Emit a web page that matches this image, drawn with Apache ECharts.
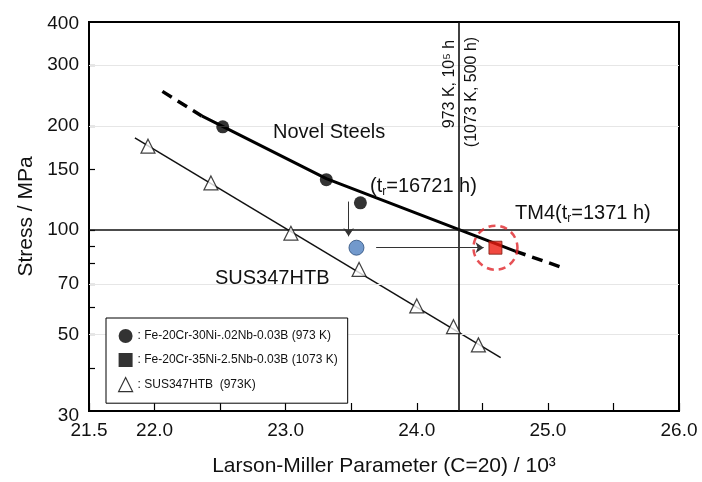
<!DOCTYPE html>
<html>
<head>
<meta charset="utf-8">
<script src="https://cdn.jsdelivr.net/npm/echarts@6/dist/echarts.min.js"></script>
<style>html,body{margin:0;padding:0;background:#fff}#c{width:702px;height:482px}</style>
</head>
<body>
<div id="c"></div>
<script>
// ---- data ----
const novelX = [22.52, 23.31, 23.57];
const novelY = [199, 140, 120];
const tm4X = [24.60];
const tm4Y = [89];
const blueX = [23.54];
const blueY = [89];
const susX = [21.95, 22.43, 23.04, 23.56, 24.00, 24.28, 24.47];
const susY = [175, 137, 98, 77, 60.4, 52.6, 46.6];
const susFitX = [21.85, 24.64];
const susFitY = [185, 42.8];
const novelFitX = [22.06, 22.36, 23.31, 24.75, 25.13];
const novelFitY = [252, 214, 141, 87, 77.5];
const yTicks = [40, 50, 60, 70, 80, 90, 100, 150, 200, 300];
const yLabels = [30, 50, 70, 100, 150, 200, 300, 400];
const xLabels = [21.5, 22, 23, 24, 25, 26];
const gridYs = [50, 70, 200, 300];
const refX = 24.32;
const refY = 100;
const downArrowX = [23.48, 23.48];
const downArrowY = [121, 96];
const sideArrowX = [23.69, 24.51];
const sideArrowY = [89, 89];
const names = ['Fe-20Cr-30Ni-.02Nb-0.03B (973 K)', 'Fe-20Cr-35Ni-2.5Nb-0.03B (1073 K)', 'SUS347HTB  (973K)'];

const zip = (a, b) => a.map((v, i) => [v, b[i]]);
const FONT = 'Liberation Sans, Arial, Helvetica, sans-serif';

const chart = echarts.init(document.getElementById('c'), null, {renderer: 'canvas'});
const option = {
  backgroundColor: '#fff',
  animation: false,
  textStyle: {fontFamily: FONT, color: '#111'},
  grid: {left: 89, right: 23, top: 22, bottom: 69, show: true, borderColor: '#000', borderWidth: 2, containLabel: false},
  xAxis: {
    type: 'value', min: 21.5, max: 26, interval: 0.5,
    name: 'Larson-Miller Parameter (C=20) / 10³', nameLocation: 'middle', nameGap: 45,
    nameTextStyle: {fontSize: 21, color: '#111', fontFamily: FONT},
    axisLine: {show: true, lineStyle: {color: '#000', width: 2}},
    axisTick: {inside: true, length: 8, lineStyle: {color: '#000', width: 1.2}},
    axisLabel: {customValues: xLabels, fontSize: 19, color: '#111', margin: 10, fontFamily: FONT,
      formatter: v => Number(v).toFixed(1)},
    splitLine: {show: false}
  },
  yAxis: {
    type: 'log', logBase: 10, min: 30, max: 400,
    name: 'Stress / MPa', nameLocation: 'middle', nameGap: 50,
    nameTextStyle: {fontSize: 21, color: '#111', fontFamily: FONT},
    axisLine: {show: true, lineStyle: {color: '#000', width: 2}},
    axisTick: {inside: true, length: 6, customValues: yTicks, lineStyle: {color: '#000', width: 1.2}},
    axisLabel: {customValues: yLabels, fontSize: 19, color: '#111', margin: 10, fontFamily: FONT,
      formatter: v => Math.round(v) === 30 ? '{lo|30}' : (Math.round(v) === 400 ? '{hi|400}' : String(Math.round(v))),
      rich: {
        lo: {fontSize: 19, color: '#111', padding: [10, 0, 0, 0], fontFamily: FONT},
        hi: {fontSize: 19, color: '#111', padding: [4, 0, 0, 0], fontFamily: FONT}
      }},
    splitLine: {show: false}
  },
  legend: {
    orient: 'vertical', left: 106, top: 318, width: 268,
    padding: [11, 10, 11, 12], itemGap: 10, itemWidth: 14, itemHeight: 14,
    borderColor: '#000', borderWidth: 1, backgroundColor: '#fff',
    selectedMode: false, z: 50,
    textStyle: {fontSize: 12, color: '#111', fontFamily: FONT},
    formatter: n => ': ' + n,
    data: [
      {name: names[0], icon: 'circle', itemStyle: {color: '#000', borderColor: '#000', borderWidth: 0}},
      {name: names[1], icon: 'rect', itemStyle: {color: '#000', borderColor: '#000', borderWidth: 0}},
      {name: names[2], icon: 'triangle', itemStyle: {color: '#fff', borderColor: '#000', borderWidth: 1.2}}
    ]
  },
  series: [
    {
      type: 'line', name: 'gridlines', data: [], silent: true, z: 1,
      markLine: {
        silent: true, symbol: ['none', 'none'], label: {show: false}, animation: false,
        data: gridYs.map(v => ({yAxis: v, lineStyle: {color: '#e6e6e6', width: 1, type: 'solid'}}))
          .concat([
            {yAxis: refY, lineStyle: {color: '#111', width: 1.6, type: 'solid'}},
            {xAxis: refX, lineStyle: {color: '#111', width: 1.6, type: 'solid'}}
          ])
      }
    },
    {type: 'line', name: 'susfit', data: zip(susFitX, susFitY), symbol: 'none', silent: true,
      lineStyle: {color: '#111', width: 1.5}, z: 3},
    {type: 'line', name: 'novelDash1', data: zip(novelFitX.slice(0, 2), novelFitY.slice(0, 2)), symbol: 'none', silent: true,
      lineStyle: {color: '#000', width: 3.5, type: [11, 7]}, z: 3},
    {type: 'line', name: 'novelSolid', data: zip(novelFitX.slice(1, 4), novelFitY.slice(1, 4)), symbol: 'none', silent: true,
      lineStyle: {color: '#000', width: 3}, z: 3},
    {type: 'line', name: 'novelDash2', data: zip(novelFitX.slice(3, 5), novelFitY.slice(3, 5)), symbol: 'none', silent: true,
      lineStyle: {color: '#000', width: 3.5, type: [11, 7]}, z: 3},
    {
      type: 'line', name: 'arrows', data: [], silent: true, z: 4,
      markLine: {
        silent: true, label: {show: false}, animation: false,
        symbol: ['none', 'arrow'], symbolSize: 8,
        lineStyle: {color: '#333', width: 1, type: 'solid'},
        data: [
          [{coord: [downArrowX[0], downArrowY[0]]}, {coord: [downArrowX[1], downArrowY[1]]}],
          [{coord: [sideArrowX[0], sideArrowY[0]]}, {coord: [sideArrowX[1], sideArrowY[1]]}]
        ]
      }
    },
    {type: 'scatter', name: names[0], data: zip(novelX, novelY), symbol: 'circle', symbolSize: 13,
      itemStyle: {color: '#000'}, z: 5},
    {type: 'scatter', name: names[2], data: zip(susX, susY), symbol: 'triangle', symbolSize: 14,
      itemStyle: {color: '#fff', borderColor: '#111', borderWidth: 1.2}, z: 5},
    {type: 'scatter', name: 'blue', data: zip(blueX, blueY), symbol: 'circle', symbolSize: 15,
      itemStyle: {color: '#4f7fbf', borderColor: '#2d4f7c', borderWidth: 1}, z: 5},
    {type: 'scatter', name: names[1], data: zip(tm4X, tm4Y), symbol: 'rect', symbolSize: 13,
      itemStyle: {color: '#ee1c10', borderColor: '#7a1a10', borderWidth: 1}, z: 6},
    {type: 'scatter', name: 'ring', data: zip(tm4X, tm4Y), symbol: 'circle', symbolSize: 44, silent: true,
      itemStyle: {color: 'rgba(0,0,0,0)', borderColor: '#e0262a', borderWidth: 2.5, borderType: [7, 5]}, z: 7}
  ],
  graphic: [
    {type: 'text', left: 273, top: 122, z: 100, style: {text: 'Novel Steels', fontSize: 20, fill: '#111', fontFamily: FONT}},
    {type: 'text', left: 215, top: 268, z: 100, style: {text: 'SUS347HTB', fontSize: 20, fill: '#111', fontFamily: FONT}},
    {type: 'text', left: 370, top: 176, z: 100, style: {text: '(t{s|r}=16721 h)', fontSize: 20, fill: '#111', fontFamily: FONT,
      rich: {s: {fontSize: 12, fill: '#111', fontFamily: FONT, padding: [12, 0, 0, 0]}}}},
    {type: 'text', left: 515, top: 203, z: 100, style: {text: 'TM4(t{s|r}=1371 h)', fontSize: 20, fill: '#111', fontFamily: FONT,
      rich: {s: {fontSize: 12, fill: '#111', fontFamily: FONT, padding: [12, 0, 0, 0]}}}},
    {type: 'text', x: 450, y: 84, rotation: Math.PI / 2, z: 100,
      style: {text: '973 K, 10⁵ h', fontSize: 16, fill: '#111', align: 'center', verticalAlign: 'middle', fontFamily: FONT}},
    {type: 'text', x: 472, y: 92, rotation: Math.PI / 2, z: 100,
      style: {text: '(1073 K, 500 h)', fontSize: 16, fill: '#111', align: 'center', verticalAlign: 'middle', fontFamily: FONT}}
  ]
};
chart.setOption(option);
</script>
</body>
</html>
